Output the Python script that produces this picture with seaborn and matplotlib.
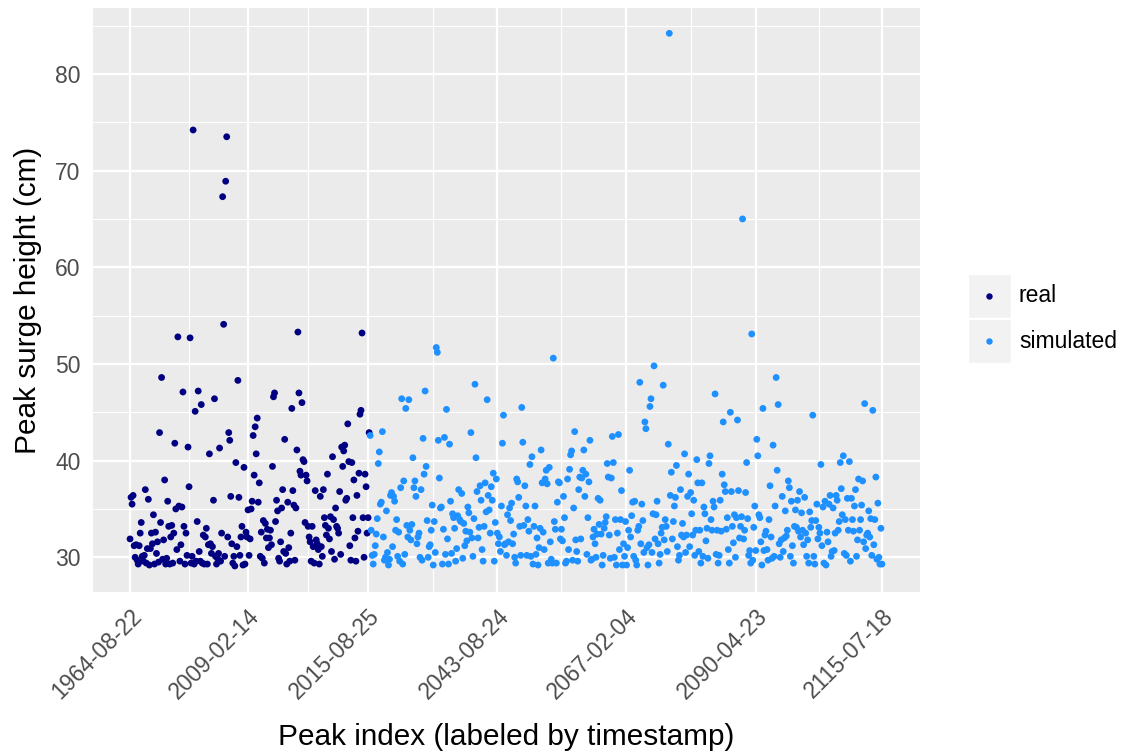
import numpy as np
import pandas as pd
import matplotlib
matplotlib.use("Agg")
import matplotlib.pyplot as plt
from matplotlib.patches import Rectangle
from matplotlib.lines import Line2D
import seaborn as sns

# ---------------- data ----------------
real_surge = [
    31.9, 36.2, 35.5, 36.4, 31.2, 30.0, 31.3, 29.7, 29.3, 31.2,
    32.5, 33.6, 30.1, 29.6, 30.2, 37.0, 29.4, 30.9, 36.0, 29.2,
    30.9, 32.5, 31.4, 34.4, 29.3, 32.6, 30.4, 31.6, 29.5, 42.9,
    33.6, 48.6, 29.8, 31.8, 38.0, 29.3, 29.9, 35.8, 33.2, 29.3,
    32.1, 33.3, 29.4, 32.5, 41.8, 35.0, 30.8, 52.8, 35.3, 29.6,
    31.3, 35.2, 47.1, 33.2, 29.3, 32.5, 30.2, 41.4, 37.3, 52.7,
    29.4, 30.1, 74.2, 29.3, 45.1, 29.6, 33.7, 47.2, 30.6, 29.6,
    45.8, 29.4, 32.3, 29.3, 32.1, 33.0, 29.3, 31.3, 40.7, 31.4,
    30.4, 31.1, 35.9, 46.4, 30.1, 29.3, 29.9, 30.4, 41.3, 29.6,
    32.5, 67.3, 54.1, 30.1, 68.9, 73.5, 32.1, 42.9, 42.1, 36.3,
    31.4, 29.4, 30.1, 29.1, 39.8, 31.1, 48.3, 36.2, 30.2, 32.1, 33.2, 29.2,
    39.3, 29.3, 32.6, 32.1, 34.9, 30.2, 31.9, 35.0, 35.8, 42.6,
    38.5, 43.5, 40.7, 44.4, 35.7, 37.7, 30.1, 32.6, 29.9, 33.8,
    29.4, 33.5, 32.0, 32.9, 31.0, 32.0, 32.8, 31.3, 39.4, 46.6,
    47.0, 33.7, 35.9, 34.8, 29.9, 29.6, 31.6, 35.1, 37.0, 30.6,
    42.2, 30.4, 29.3, 35.7, 31.0, 29.6, 32.5, 45.4, 36.9, 35.4,
    29.7, 35.1, 41.1, 53.3, 47.0, 38.9, 38.5, 46.0, 40.1, 39.9,
    33.6, 38.5, 37.9, 33.2, 32.1, 31.6, 29.6, 33.2, 31.1, 29.4,
    36.9, 31.8, 31.4, 30.8, 29.3, 36.3, 31.1, 30.1, 37.0, 34.1,
    33.3, 32.3, 38.6, 33.0, 31.9, 34.2, 30.6, 40.4, 33.9, 29.8,
    35.1, 33.2, 33.0, 32.5, 36.8, 30.3, 41.4, 39.4, 41.0, 41.6,
    35.9, 36.1, 43.8, 39.9, 31.2, 29.7, 39.8, 34.1, 38.0, 32.0,
    29.6, 36.4, 32.7, 38.7, 44.8, 45.2, 53.2, 34.1, 30.0, 38.6,
    37.3, 32.5, 34.1, 42.9,
]

simulated_surge = [
    # 2015 -> 2043
    42.6, 32.8, 30.2, 29.3, 30.3, 31.2, 32.4, 34.0, 39.7, 40.9,
    35.5, 35.7, 43.0, 32.1, 29.7, 30.0, 34.8, 30.5, 29.2, 29.8,
    36.4, 36.7, 31.1, 36.3, 35.8, 32.8, 33.9, 30.1, 32.6, 29.6,
    37.2, 46.4, 29.3, 37.9, 30.3, 45.4, 33.3, 32.1, 46.3, 32.8,
    31.8, 33.4, 40.3, 37.2, 37.9, 36.3, 31.4, 32.1, 32.5, 30.0,
    37.0, 29.7, 42.3, 38.6, 47.2, 39.4, 33.8, 30.0, 31.1, 31.3,
    32.8, 35.4, 29.2, 33.7, 30.5, 51.7, 51.2, 42.1, 38.2, 35.1,
    35.2, 29.3, 32.9, 42.4, 30.3, 45.3, 31.9, 29.3, 41.7, 35.8,
    30.4, 34.5, 34.1, 33.0, 29.6, 30.9, 34.3, 37.0, 33.9, 33.7,
    36.6, 29.9, 33.5, 31.2, 32.7, 31.7, 35.2, 34.6, 32.6, 42.9,
    32.0, 30.1, 34.0, 47.9, 40.3, 36.8, 32.0, 33.1, 37.4, 35.9,
    30.8, 29.6, 33.2, 37.7, 34.7, 46.3, 36.4, 34.9, 32.5, 37.3,
    35.9, 38.7, 29.6, 33.6, 38.1,
    # 2043 -> 2067
    32.5, 31.4, 32.1, 30.6, 35.3, 41.8, 44.7, 31.3, 31.4, 30.2,
    34.4, 31.6, 35.1, 33.8, 35.6, 31.4, 32.4, 30.0, 29.4, 38.1,
    37.8, 36.2, 33.2, 30.2, 45.5, 41.9, 33.3, 37.4, 35.3, 30.2,
    33.9, 32.7, 39.6, 30.1, 40.4, 29.3, 33.2, 35.3, 30.3, 32.0,
    29.2, 31.0, 33.0, 41.1, 37.7, 32.6, 30.8, 38.1, 39.0, 37.6,
    29.4, 39.3, 31.6, 29.8, 29.4, 50.6, 33.7, 32.9, 29.4, 35.7,
    37.8, 37.7, 31.9, 32.9, 31.7, 36.3, 34.1, 29.4, 29.6, 38.1,
    30.8, 39.1, 40.6, 41.0, 29.7, 35.1, 43.0, 31.8, 30.6, 29.6,
    37.0, 38.3, 31.9, 38.2, 39.0, 41.1, 36.3, 38.6, 30.3, 34.1,
    37.8, 42.1, 29.7, 29.8, 32.1, 32.9, 31.4, 30.0, 32.4, 36.1,
    33.4, 35.9, 32.4, 29.2, 30.2, 33.0, 33.6, 34.2, 39.7, 38.3,
    32.3, 29.9, 38.2, 42.5, 39.8, 30.0, 33.9, 29.2, 32.5, 42.7,
    30.8, 33.9, 36.9,
    # 2067 -> 2090
    29.2, 31.4, 30.1, 33.7, 29.2, 31.0, 32.8, 39.0, 32.1, 34.3,
    35.7, 30.1, 35.8, 29.7, 29.2, 32.8, 33.2, 48.1, 31.4, 35.5,
    33.8, 30.5, 44.0, 43.3, 31.0, 29.2, 31.3, 45.6, 46.4, 30.5,
    34.5, 49.8, 31.9, 34.4, 35.8, 31.4, 29.4, 30.3, 32.5, 33.1,
    47.8, 31.8, 33.9, 33.2, 30.6, 41.7, 84.2, 36.4, 38.8, 31.9,
    33.7, 35.3, 36.2, 39.5, 31.1, 29.7, 30.2, 37.0, 32.3, 33.5,
    32.1, 40.7, 30.5, 32.3, 36.3, 38.6, 31.1, 36.7, 34.5, 32.3,
    35.9, 30.2, 32.8, 40.1, 37.7, 30.6, 32.8, 29.4, 37.7, 30.1,
    35.2, 34.5, 31.7, 33.0, 29.9, 39.7, 40.5, 33.9, 32.8, 35.8,
    35.2, 46.9, 30.3, 32.8, 29.4, 30.2, 35.9, 32.7, 38.6, 44.0,
    37.5, 36.8, 32.9, 34.1, 30.8, 29.4, 45.0, 36.8, 33.2, 31.5,
    34.4, 30.0, 34.1, 44.2, 36.9, 32.0,
    # 2090 -> 2115
    33.2, 34.2, 65.0, 31.9, 32.8, 36.7, 39.8, 34.0, 30.2, 30.7, 29.4,
    53.1, 29.7, 33.1, 35.3, 30.7, 42.2, 40.5, 34.4, 34.1, 31.6,
    29.2, 45.4, 30.7, 32.3, 32.7, 30.8, 29.7, 33.9, 37.4,
    32.1, 29.9, 41.6, 30.1, 35.3, 48.6, 39.0, 45.8, 31.4, 30.0,
    31.8, 36.3, 30.6, 32.0, 34.8, 32.2, 32.8, 37.9, 37.2, 30.1,
    35.8, 31.2, 29.4, 33.2, 34.9, 33.1, 35.9, 32.7, 36.8, 32.1,
    34.6, 32.8, 31.3, 36.2, 32.5, 30.1, 31.8, 29.4, 34.7, 33.1,
    33.8, 44.7, 30.1, 29.3, 33.8, 35.5, 31.9, 33.1, 32.5, 39.6,
    31.2, 35.2, 29.4, 35.8, 29.2, 32.6, 31.6, 35.5, 36.4, 30.1,
    30.6, 35.1, 30.7, 32.5, 36.4, 35.9, 32.8, 33.7, 39.8, 37.1,
    34.4, 40.5, 30.4, 33.9, 30.2, 36.1, 32.8, 39.9, 29.6, 36.1,
    33.9, 32.7, 35.3, 37.0, 30.1, 31.8, 38.1, 32.8, 33.9, 35.4,
    37.9, 31.6, 45.9, 30.9, 32.3, 32.5, 34.8, 32.1, 34.0, 30.2,
    45.2, 31.3, 33.9, 38.3, 29.8, 35.6, 30.0, 29.3, 33.0, 29.3,
]

tick_labels = ["1964-08-22", "2009-02-14", "2015-08-25", "2043-08-24",
               "2067-02-04", "2090-04-23", "2115-07-18"]
tick_index = [0, 116, 234, 361, 487, 615, 739]

y_major = [30, 40, 50, 60, 70, 80]
y_minor = [35, 45, 55, 65, 75, 85]

# ---------------- frame ----------------
n_real = len(real_surge)
n_sim = len(simulated_surge)
df = pd.DataFrame({
    "peak_index": np.arange(n_real + n_sim),
    "surge": real_surge + simulated_surge,
    "type": ["real"] * n_real + ["simulated"] * n_sim,
})

palette = {"real": "#000080", "simulated": "#1E90FF"}

sns.set_theme(style="white")
plt.rcParams["font.family"] = ["Liberation Sans", "DejaVu Sans"]

W, H = 1123, 753
fig = plt.figure(figsize=(W / 100, H / 100), dpi=100)
ax = fig.add_axes([93 / W, 1 - 592 / H, 827 / W, 584 / H])
ax.set_facecolor("#EBEBEB")

sns.scatterplot(data=df, x="peak_index", y="surge", hue="type",
                palette=palette, s=24, linewidth=0, legend=False, ax=ax,
                zorder=3)

# scales
ax.set_xlim(-36.4, 776.4)
ax.set_ylim(26.41, 86.82)

ax.set_xticks(tick_index)
ax.set_xticklabels(tick_labels, rotation=45, ha="right", va="top",
                   rotation_mode="anchor")
minor_x = [(a + b) / 2 for a, b in zip(tick_index[:-1], tick_index[1:])]
ax.set_xticks(minor_x, minor=True)
ax.set_yticks(y_major)
ax.set_yticks(y_minor, minor=True)

ax.grid(which="major", color="white", linewidth=1.6, zorder=0)
ax.grid(which="minor", color="white", linewidth=0.8, zorder=0)
ax.set_axisbelow(True)
for sp in ax.spines.values():
    sp.set_visible(False)

ax.tick_params(axis="both", which="major", length=5, width=1.0,
               color="#333333", labelcolor="#4D4D4D", labelsize=16.5,
               direction="out", pad=4)
ax.tick_params(axis="both", which="minor", length=0)

ax.set_xlabel("Peak index (labeled by timestamp)", fontsize=21.4,
              color="black", labelpad=14)
ax.set_ylabel("Peak surge height (cm)", fontsize=21.4, color="black",
              labelpad=9)

# ---------------- legend (ggplot style) ----------------
keys = [("real", 296), ("simulated", 341)]
for label, yc in keys:
    fig.add_artist(Rectangle((968 / W, 1 - (yc + 22) / H), 43 / W, 44 / H,
                             transform=fig.transFigure, facecolor="#F2F2F2",
                             edgecolor="white", linewidth=1.0))
    fig.add_artist(Line2D([989 / W], [1 - yc / H], transform=fig.transFigure,
                          marker="o", markersize=4.6, linestyle="none",
                          markerfacecolor=palette[label],
                          markeredgewidth=0))
    fig.text(1019 / W, 1 - yc / H, label, fontsize=16.5, color="black",
             va="center", ha="left")

fig.savefig("out.png", dpi=100)
